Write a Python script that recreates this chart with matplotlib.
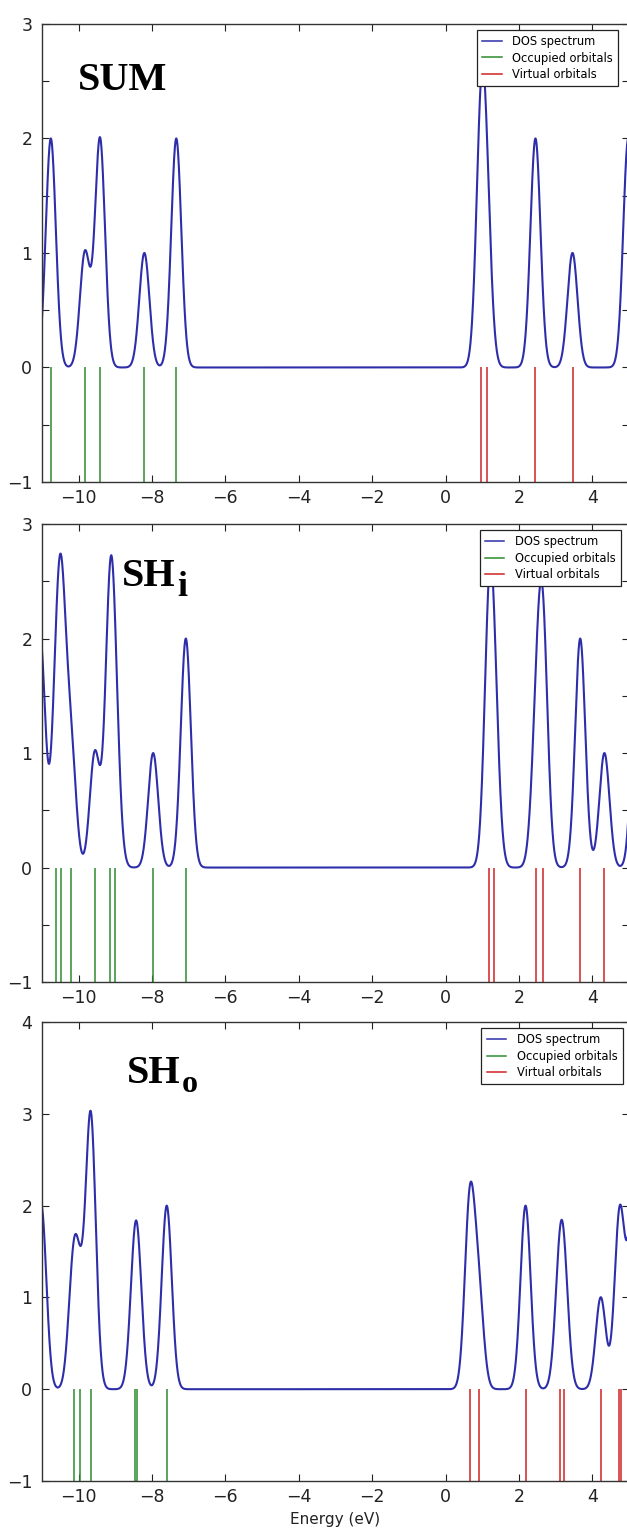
import numpy as np
import matplotlib
matplotlib.use("Agg")
import matplotlib.pyplot as plt
from matplotlib.ticker import MultipleLocator, FuncFormatter

# orbital energies (eV) and weights
sum_occ_e = [-10.76, -9.83, -9.42, -8.21, -7.34]
sum_occ_w = [2, 1, 2, 1, 2]
sum_vir_e = [0.97, 1.12, 2.45, 3.46, 4.98]
sum_vir_w = [2, 1, 2, 1, 2]

shi_occ_e = [-11.05, -10.62, -10.47, -10.21, -9.56, -9.15, -9.02, -7.97, -7.08]
shi_occ_w = [2, 1, 2, 1, 1, 2, 1, 1, 2]
shi_vir_e = [1.19, 1.33, 2.47, 2.65, 3.67, 4.33, 5.22]
shi_vir_w = [2, 1, 1, 2, 2, 1, 2]

sho_occ_e = [-11.02, -10.14, -9.96, -9.67, -8.47, -8.40, -7.60]
sho_occ_w = [2, 1.3, 0.7, 2.95, 0.95, 0.95, 2]
sho_vir_e = [0.66, 0.90, 2.18, 3.11, 3.22, 4.23, 4.72, 4.78, 5.12]
sho_vir_w = [2, 1, 2, 1, 1, 1, 1, 1, 2]

panel_names = [("SUM", ""), ("SH", "i"), ("SH", "o")]
y_tops = [3, 3, 4]
y_steps = [0.5, 0.5, 1]

sigma = 0.137
x = np.linspace(-11, 5, 3000)


def dos(energies, weights):
    y = np.zeros_like(x)
    for e, w in zip(energies, weights):
        y += w * np.exp(-(x - e) ** 2 / (2 * sigma ** 2))
    return y


def fmt_int(v, pos):
    if abs(v - round(v)) > 1e-6:
        return ""
    return str(int(round(v))).replace("-", "\u2212")


fig = plt.figure(figsize=(6.27, 15.34), dpi=100)
left = 42 / 627
width = 587 / 627
rects = [[left, 0.6858, width, 0.2986],
         [left, 0.3598, width, 0.2986],
         [left, 0.03455, width, 0.2992]]
legend_anchor = [(0.981, 0.987), (0.986, 0.987), (0.989, 0.987)]
name_pos = [(0.061, 0.856), (0.136, 0.865), (0.144, 0.867)]
sub_size = [0, 26, 23]
sub_drop = [0, -6.5, -5]

data = [(sum_occ_e, sum_occ_w, sum_vir_e, sum_vir_w),
        (shi_occ_e, shi_occ_w, shi_vir_e, shi_vir_w),
        (sho_occ_e, sho_occ_w, sho_vir_e, sho_vir_w)]

blue = "#2e2eaa"
green = "#2e8b2e"
red = "#d02222"

for i, (occ_e, occ_w, vir_e, vir_w) in enumerate(data):
    ax = fig.add_axes(rects[i])
    y = dos(occ_e + vir_e, occ_w + vir_w)
    ax.plot(x, y, color=blue, lw=1.5)
    ax.vlines(occ_e, -1, 0, color=green, lw=1.1)
    ax.vlines(vir_e, -1, 0, color=red, lw=1.1)
    ax.set_xlim(-11, 5)
    ax.set_ylim(-1, y_tops[i])
    ax.xaxis.set_major_locator(MultipleLocator(2))
    ax.xaxis.set_major_formatter(FuncFormatter(fmt_int))
    ax.yaxis.set_major_locator(MultipleLocator(y_steps[i]))
    ax.yaxis.set_major_formatter(FuncFormatter(fmt_int))
    ax.tick_params(direction="in", top=True, right=True, length=5,
                   width=0.8, labelsize=12.5, colors="#222222")
    ax.tick_params(axis="y", pad=7)
    ax.tick_params(axis="x", pad=5)
    for s in ax.spines.values():
        s.set_color("#333333")
        s.set_linewidth(1.0)

    # legend with line handles for the sticks
    h = [plt.Line2D([], [], color=c, lw=1.1) for c in (blue, green, red)]
    leg = ax.legend(h, ["DOS spectrum", "Occupied orbitals", "Virtual orbitals"],
                    loc="upper right", bbox_to_anchor=legend_anchor[i],
                    fontsize=8.3, fancybox=False, framealpha=1, edgecolor="#222222",
                    labelspacing=0.3, handlelength=1.7, handletextpad=0.9,
                    borderpad=0.45, borderaxespad=0)
    leg.get_frame().set_linewidth(0.9)

    main, sub = panel_names[i]
    nx, ny = name_pos[i]
    t = ax.text(nx, ny, main, transform=ax.transAxes, fontsize=29,
                family="Liberation Serif", weight="bold", color="black")
    if sub:
        ax.annotate(sub, xy=(1, 0), xycoords=t, xytext=(1, sub_drop[i]),
                    textcoords="offset points", fontsize=sub_size[i],
                    family="Liberation Serif", weight="bold", color="black",
                    va="bottom")

    if i == 2:
        ax.set_xlabel("Energy (eV)", fontsize=11, color="#222222", labelpad=4)

fig.savefig("out.png", dpi=100)
